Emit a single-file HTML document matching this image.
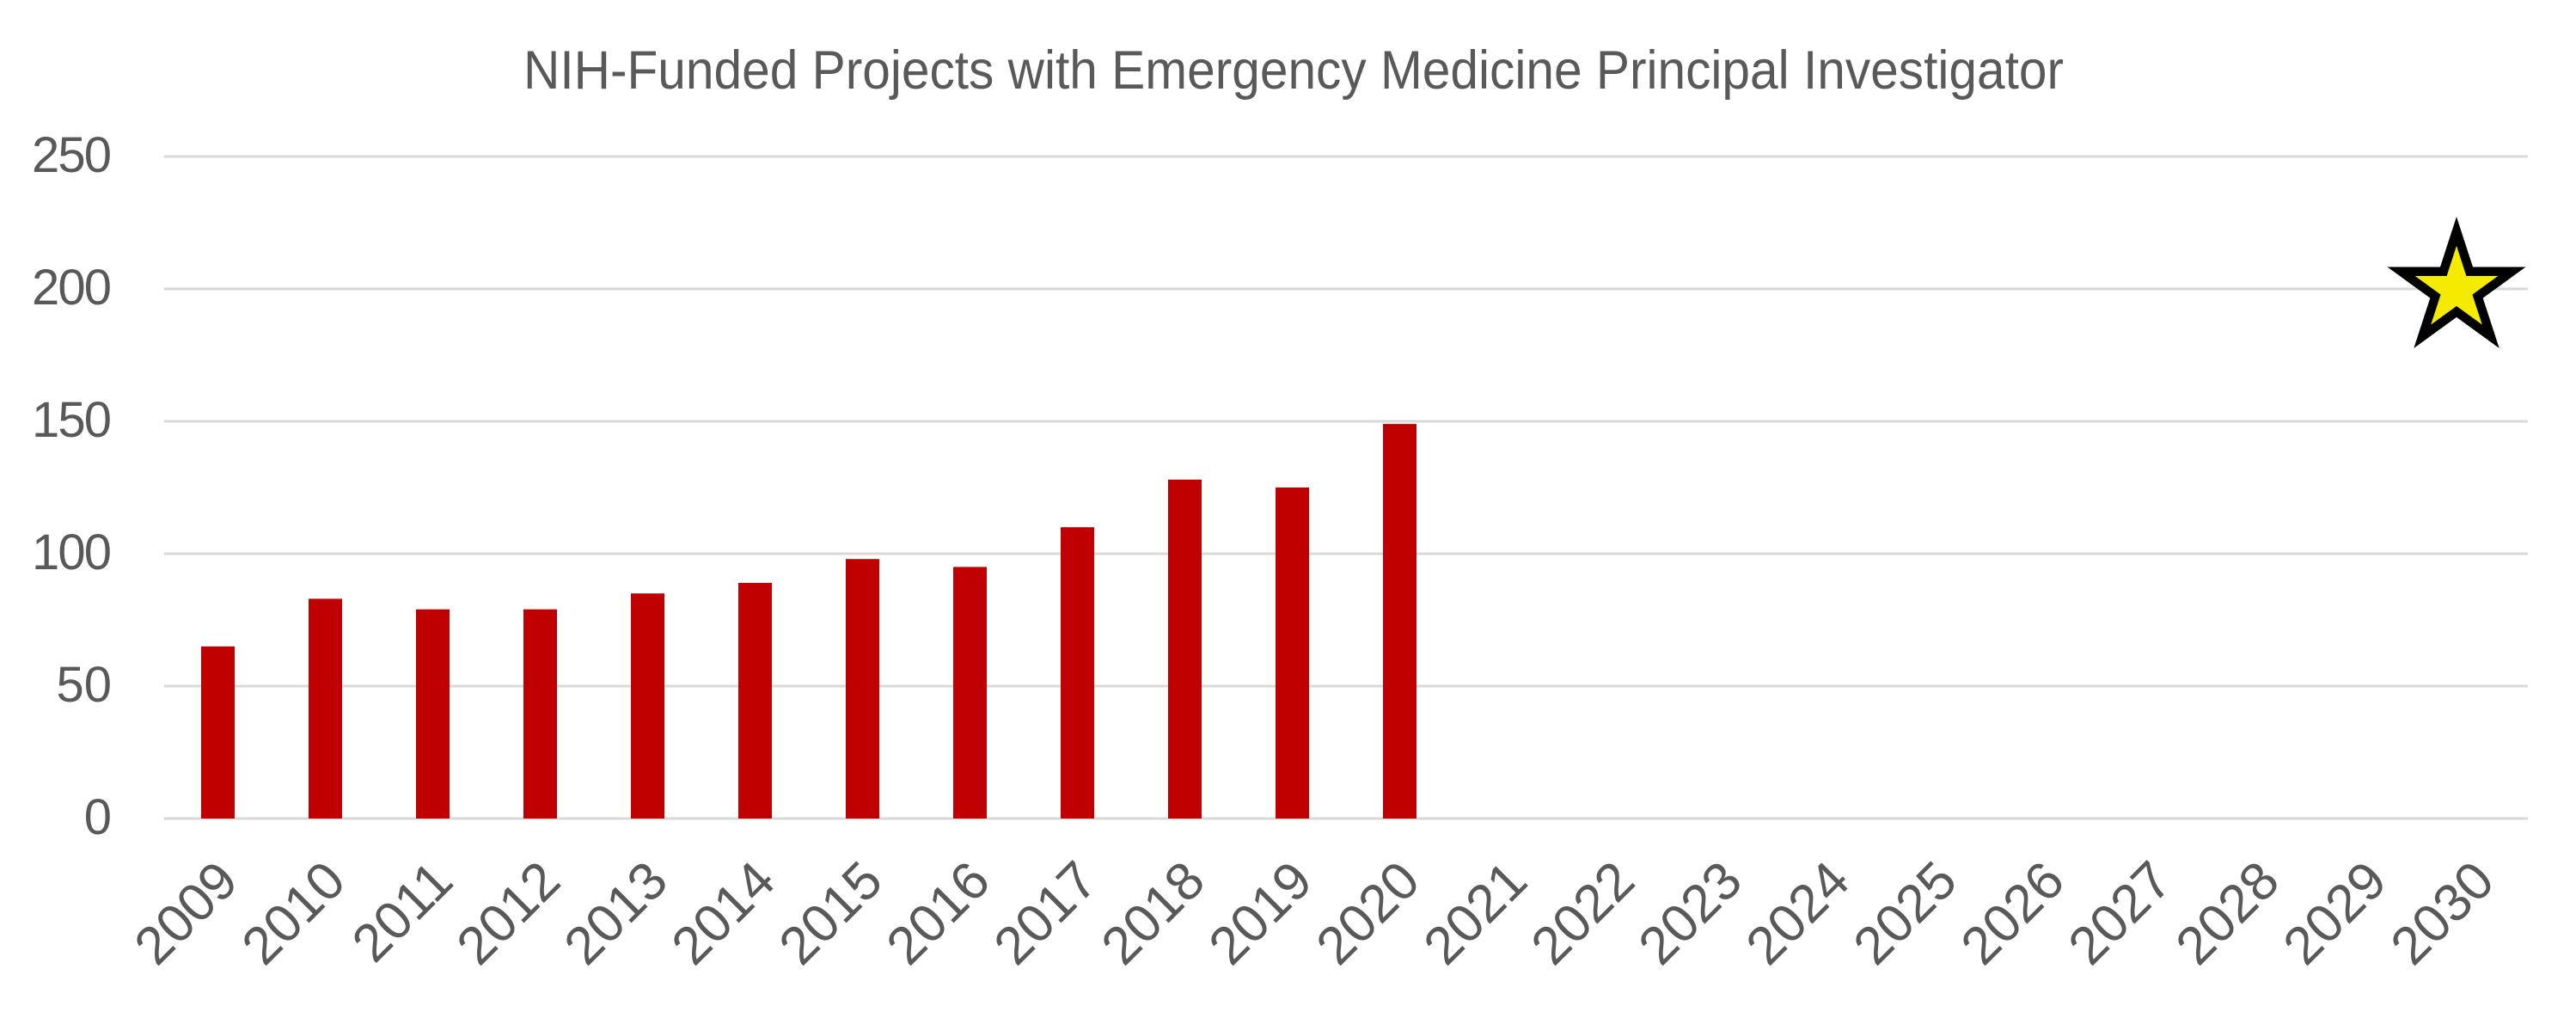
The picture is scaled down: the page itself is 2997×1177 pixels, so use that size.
<!DOCTYPE html>
<html><head><meta charset="utf-8"><style>
html,body{margin:0;padding:0;background:#fff;}
svg{display:block;font-family:"Liberation Sans",sans-serif;}
</style></head><body>
<svg width="2997" height="1177" viewBox="0 0 2997 1177" xmlns="http://www.w3.org/2000/svg">
<rect width="2997" height="1177" fill="#fff"/>
<text x="1505" y="103" font-size="63" fill="#595959" text-anchor="middle" textLength="1792" lengthAdjust="spacingAndGlyphs">NIH-Funded Projects with Emergency Medicine Principal Investigator</text>
<g stroke="#d9d9d9" stroke-width="3">
<line x1="191" x2="2941" y1="182" y2="182"/>
<line x1="191" x2="2941" y1="336" y2="336"/>
<line x1="191" x2="2941" y1="490" y2="490"/>
<line x1="191" x2="2941" y1="644" y2="644"/>
<line x1="191" x2="2941" y1="798" y2="798"/>
<line x1="191" x2="2941" y1="952" y2="952"/>
</g>
<g font-size="58" fill="#595959" text-anchor="end">
<text x="130" y="200" textLength="93">250</text>
<text x="130" y="354" textLength="93">200</text>
<text x="130" y="508" textLength="93">150</text>
<text x="130" y="662" textLength="93">100</text>
<text x="130" y="816">50</text>
<text x="130" y="970">0</text>
</g>
<g fill="#c00000">
<rect x="234" y="751.8" width="39" height="200.2"/>
<rect x="359" y="696.4" width="39" height="255.6"/>
<rect x="484" y="708.7" width="39" height="243.3"/>
<rect x="609" y="708.7" width="39" height="243.3"/>
<rect x="734" y="690.2" width="39" height="261.8"/>
<rect x="859" y="677.9" width="39" height="274.1"/>
<rect x="984" y="650.2" width="39" height="301.8"/>
<rect x="1109" y="659.4" width="39" height="292.6"/>
<rect x="1234" y="613.2" width="39" height="338.8"/>
<rect x="1359" y="557.8" width="39" height="394.2"/>
<rect x="1484" y="567.0" width="39" height="385.0"/>
<rect x="1609" y="493.1" width="39" height="458.9"/>
</g>
<g font-size="62" fill="#595959" text-anchor="end">
<text transform="translate(280,1028) rotate(-45)">2009</text>
<text transform="translate(405,1028) rotate(-45)">2010</text>
<text transform="translate(530,1028) rotate(-45)">2011</text>
<text transform="translate(655,1028) rotate(-45)">2012</text>
<text transform="translate(780,1028) rotate(-45)">2013</text>
<text transform="translate(905,1028) rotate(-45)">2014</text>
<text transform="translate(1030,1028) rotate(-45)">2015</text>
<text transform="translate(1155,1028) rotate(-45)">2016</text>
<text transform="translate(1280,1028) rotate(-45)">2017</text>
<text transform="translate(1405,1028) rotate(-45)">2018</text>
<text transform="translate(1530,1028) rotate(-45)">2019</text>
<text transform="translate(1655,1028) rotate(-45)">2020</text>
<text transform="translate(1780,1028) rotate(-45)">2021</text>
<text transform="translate(1905,1028) rotate(-45)">2022</text>
<text transform="translate(2030,1028) rotate(-45)">2023</text>
<text transform="translate(2155,1028) rotate(-45)">2024</text>
<text transform="translate(2280,1028) rotate(-45)">2025</text>
<text transform="translate(2405,1028) rotate(-45)">2026</text>
<text transform="translate(2530,1028) rotate(-45)">2027</text>
<text transform="translate(2655,1028) rotate(-45)">2028</text>
<text transform="translate(2780,1028) rotate(-45)">2029</text>
<text transform="translate(2905,1028) rotate(-45)">2030</text>
</g>
<g transform="translate(2858,336.6)">
<polygon fill="#000" points="0,-84.6 19,-26.1 80.5,-26.1 30.7,10 49.7,68.4 0,32.3 -49.7,68.4 -30.7,10 -80.5,-26.1 -19,-26.1"/>
<polygon fill="#f5eb00" transform="scale(0.6)" points="0,-84.6 19,-26.1 80.5,-26.1 30.7,10 49.7,68.4 0,32.3 -49.7,68.4 -30.7,10 -80.5,-26.1 -19,-26.1"/>
</g>
</svg>
</body></html>
